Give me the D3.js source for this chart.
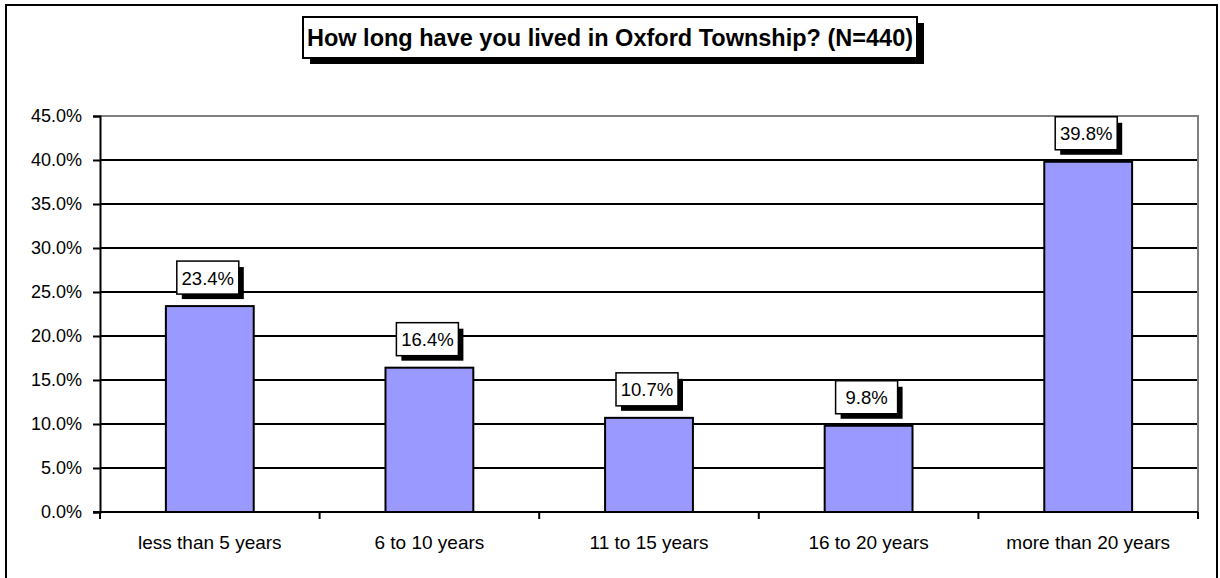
<!DOCTYPE html>
<html><head><meta charset="utf-8">
<script src="https://cdn.jsdelivr.net/npm/d3@7/dist/d3.min.js"></script>
<style>body{margin:0;background:#fff;}svg{display:block;font-family:"Liberation Sans",Arial,sans-serif;}</style>
</head><body>
<svg id="c" width="1220" height="578"></svg>
<script>
const categories = ["less than 5 years","6 to 10 years","11 to 15 years","16 to 20 years","more than 20 years"];
const values = [23.4, 16.4, 10.7, 9.8, 39.8];
const yTicks = [0,5,10,15,20,25,30,35,40,45];
const title = "How long have you lived in Oxford Township? (N=440)";

const svg = d3.select("#c");
svg.append("rect").attr("x",6).attr("y",5).attr("width",1211).attr("height",580)
  .attr("fill","#fff").attr("stroke","#000").attr("stroke-width",2);

const L=100,R=1198,T=116,B=512;
const x = d3.scaleBand().domain(categories).range([L,R]).paddingInner(0).paddingOuter(0);
const y = d3.scaleLinear().domain([0,45]).range([B,T]);

svg.append("g").selectAll("line").data(yTicks.filter(d=>d>0&&d<45)).join("line")
  .attr("x1",L).attr("x2",R).attr("y1",d=>y(d)).attr("y2",d=>y(d))
  .attr("stroke","#000").attr("stroke-width",2);
svg.append("path").attr("d",`M${L},${y(45)}H${R}V${B}`).attr("fill","none")
  .attr("stroke","#808080").attr("stroke-width",2);

const ya = svg.append("g").attr("transform",`translate(${L},0)`)
  .call(d3.axisLeft(y).tickValues(yTicks).tickFormat(d=>d.toFixed(1)+"%").tickSize(7).tickPadding(11));
ya.attr("font-size",null).attr("font-family",null);
ya.select(".domain").attr("stroke","#000").attr("stroke-width",2);
ya.selectAll(".tick line").attr("stroke","#000").attr("stroke-width",2);
ya.selectAll("text").style("font-size","18px").attr("fill","#000");

const xa = svg.append("g").attr("transform",`translate(0,${B})`)
  .call(d3.axisBottom(x).tickSize(0).tickPadding(24));
xa.attr("font-size",null).attr("font-family",null);
xa.select(".domain").remove();
xa.selectAll("text").style("font-size","19px").attr("fill","#000");
const bounds = categories.map(c=>x(c)).concat([R]);
svg.append("g").selectAll("line").data(bounds).join("line")
  .attr("x1",d=>d).attr("x2",d=>d).attr("y1",B).attr("y2",B+7)
  .attr("stroke","#000").attr("stroke-width",2);
svg.append("line").attr("x1",L-7).attr("x2",R).attr("y1",B).attr("y2",B)
  .attr("stroke","#000").attr("stroke-width",2);

const bw = x.bandwidth()*0.4;
svg.append("g").selectAll("rect").data(values).join("rect")
  .attr("x",(d,i)=>x(categories[i])+x.bandwidth()/2-bw/2)
  .attr("y",d=>y(d)).attr("width",bw).attr("height",d=>B-y(d))
  .attr("fill","#9999FF").attr("stroke","#000").attr("stroke-width",2);

const lg = svg.append("g").selectAll("g").data(values).join("g")
  .attr("transform",(d,i)=>`translate(${x(categories[i])+x.bandwidth()/2-2},${y(d)-28})`);
lg.append("rect").attr("x",-26).attr("y",-11).attr("width",62).attr("height",32).attr("fill","#000");
lg.append("rect").attr("x",-31).attr("y",-17).attr("width",62).attr("height",33)
  .attr("fill","#fff").attr("stroke","#000").attr("stroke-width",1.5);
lg.append("text").attr("x",0).attr("y",0).attr("dy","0.35em").attr("text-anchor","middle")
  .style("font-size","18.5px").text(d=>d.toFixed(1)+"%");

const tg = svg.append("g");
tg.append("rect").attr("x",310).attr("y",23).attr("width",614).attr("height",41).attr("fill","#000");
tg.append("rect").attr("x",303).attr("y",17).attr("width",614).attr("height",41)
  .attr("fill","#fff").attr("stroke","#000").attr("stroke-width",2);
tg.append("text").attr("x",610).attr("y",38).attr("dy","0.35em").attr("text-anchor","middle")
  .style("font-size","23.5px").attr("font-weight","bold").text(title);
</script>
</body></html>
